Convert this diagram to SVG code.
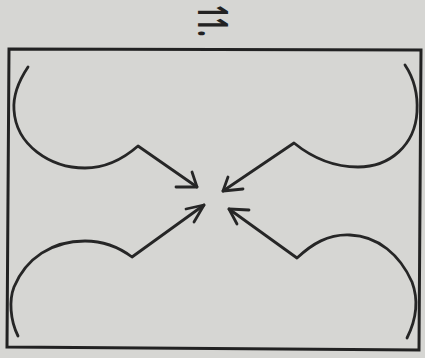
<svg xmlns="http://www.w3.org/2000/svg" width="425" height="358" viewBox="0 0 425 358">
  <style>
    .ln{fill:none;stroke:#262626;stroke-width:2.8;stroke-linecap:round;stroke-linejoin:round}
    .frame{fill:none;stroke:#222;stroke-width:3}
    .lbl{font-family:"Open Sans",sans-serif;font-weight:bold;font-size:22px;fill:#222}
  </style>
  <rect x="0" y="0" width="425" height="358" fill="#d6d6d3"/>
  <g id="label">
    <text class="lbl" transform="translate(198,5) rotate(90) scale(1,1.9)">11.</text>
  </g>
  <g id="frame">
    <polygon class="frame" points="9,49 421,50 419,350 7,347"/>
  </g>
  <g id="connectors">
    <g id="arrow-top-left">
      <path class="ln" d="M28,67 C18,82 13,97 14,110 C16,145 50,168 85,168 C105,168 122,160 138,146 L197,187"/>
      <path class="ln" d="M176,187 L197,187 L192,172"/>
    </g>
    <g id="arrow-top-right">
      <path class="ln" d="M405,65 C415,80 418,95 417,112 C415,145 390,167 358,167 C335,167 315,160 294,143 L223,191"/>
      <path class="ln" d="M243,189 L223,191 L228,177"/>
    </g>
    <g id="arrow-bottom-left">
      <path class="ln" d="M18,336 C10,320 9,300 14,287 C26,258 52,241 85,241 C105,241 120,248 132,257 L204,205"/>
      <path class="ln" d="M186,209 L204,205 L194,222"/>
    </g>
    <g id="arrow-bottom-right">
      <path class="ln" d="M407,338 C417,318 418,298 412,282 C400,255 378,236 350,235 C328,234 312,244 297,258 L229,209"/>
      <path class="ln" d="M249,210 L229,209 L237,224"/>
    </g>
  </g>
</svg>
